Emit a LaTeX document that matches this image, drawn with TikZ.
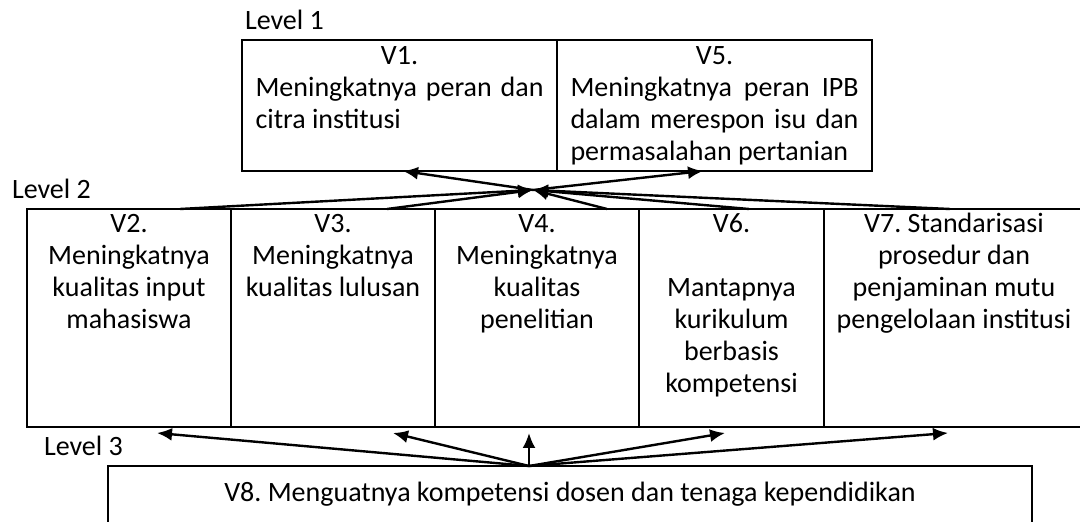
\documentclass[tikz,border=0pt]{standalone}
\usepackage{fontspec}
\setmainfont{Carlito}
\usepackage{tikz}
\usetikzlibrary{arrows.meta,positioning}
\hyphenpenalty=10000
\exhyphenpenalty=10000
\tolerance=10000
\hbadness=10000
\frenchspacing

\begin{document}
\begin{tikzpicture}[x=0.5pt, y=-0.5pt, ->, >={Latex[length=7.5pt,width=6.5pt]}, line width=1.2pt, outer sep=0pt, node distance=0pt,
  box/.style={draw, line width=1pt, font=\fontsize{14}{16}\selectfont, text height=10pt},
  toprow/.style={box, text width=144pt, inner xsep=6.75pt, inner ysep=2.5pt, text depth=50.5pt, align=justify},
  midrow/.style={box, text width=#1, inner xsep=3pt, inner ysep=2pt, text depth=95pt, align=flush center},
  lvl/.style={font=\fontsize{14}{16}\selectfont, inner sep=0pt, anchor=base west}]
\useasboundingbox (0,0) rectangle (1080,522);

\node[lvl] (l1) at (245,30) {Level 1};
\node[lvl] (l2) at (12,199) {Level 2};
\node[lvl] (l3) at (44,456) {Level 3};

\node[toprow, anchor=north west] (v1) at (242,40) {{\centering V1.\par}\noindent Meningkatnya peran dan\linebreak citra institusi};
\node[toprow, right=of v1] (v5) {{\centering V5.\par}\noindent Meningkatnya peran IPB\linebreak dalam merespon isu dan\linebreak permasalahan pertanian};

\node[midrow=96pt, anchor=north west] (v2) at (27,209) {V2.\\Meningkatnya\\kualitas input\\mahasiswa};
\node[midrow=96pt, right=of v2] (v3) {V3.\\Meningkatnya\\kualitas lulusan};
\node[midrow=96pt, right=of v3] (v4) {V4.\\Meningkatnya\\kualitas\\penelitian};
\node[midrow=86.5pt, right=of v4] (v6) {V6.\\[16pt]Mantapnya\\kurikulum\\berbasis\\kompetensi};
\node[midrow=124pt, right=of v6] (v7) {V7. Standarisasi\\prosedur dan\\penjaminan mutu\\pengelolaan institusi};

\node[box, anchor=north west, minimum width=462pt, inner ysep=8pt, text depth=12pt] (v8) at (108,466) {V8. Menguatnya kompetensi dosen dan tenaga kependidikan};

\coordinate (hub) at (533,190);
\coordinate (src) at ([xshift=-20.5pt]v8.north);

\path
([xshift=25.5pt]v2.north) edge (hub)
([xshift=27pt]v3.north) edge (hub)
([xshift=35pt]v4.north) edge (hub)
([xshift=8.75pt]v6.north) edge (hub)
([xshift=-2pt]v7.north) edge (hub)

(hub) edge ([xshift=1.75pt]v1.south)
(hub) edge ([xshift=-5.75pt]v5.south)

(src) edge ([xshift=14pt, yshift=-3pt]v2.south)
(src) edge ([xshift=30pt, yshift=-3pt]v3.south)
(src) edge ([xshift=-4pt, yshift=-3pt]v4.south)
(src) edge ([xshift=-3.25pt, yshift=-3pt]v6.south)
(src) edge ([xshift=-3pt, yshift=-3pt]v7.south);
\end{tikzpicture}
\end{document}
